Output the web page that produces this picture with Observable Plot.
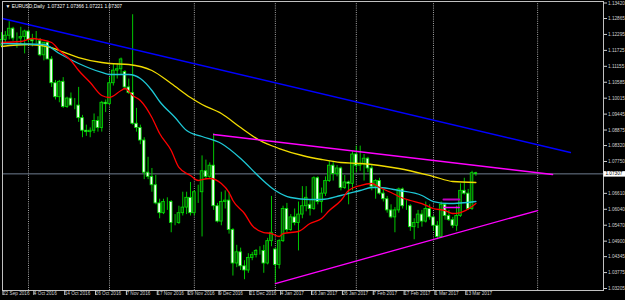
<!DOCTYPE html>
<html><head><meta charset="utf-8">
<script src="https://cdn.jsdelivr.net/npm/d3@7"></script>
<script src="https://cdn.jsdelivr.net/npm/@observablehq/plot@0.6"></script>
<style>
html,body{margin:0;padding:0;background:#000;}
#chart{width:625px;height:300px;overflow:hidden;}
</style></head><body><div id="chart"></div>
<script>
// ---- data (bar index 0 = 22 Sep 2016) ----
const opens = [1.1190,1.1210,1.1225,1.1250,1.1215,1.1215,1.1220,1.1240,1.1210,1.1205,
1.1205,1.1155,1.1200,1.1140,1.1055,1.1005,1.1060,1.0970,1.1000,1.0975,
1.0975,1.0930,1.0885,1.0880,1.0885,1.0920,1.0895,1.0985,1.0980,1.1055,
1.1100,1.1105,1.1095,1.1040,1.1020,1.0910,1.0895,1.0850,1.0735,1.0720,
1.0690,1.0625,1.0590,1.0630,1.0630,1.0555,1.0555,1.0590,1.0610,1.0645,
1.0590,1.0665,1.0665,1.0740,1.0720,1.0760,1.0615,1.0560,1.0630,1.0635,
1.0530,1.0410,1.0450,1.0400,1.0385,1.0430,1.0440,1.0455,1.0455,1.0410,
1.0490,1.0460,1.0405,1.0490,1.0605,1.0530,1.0575,1.0555,1.0585,1.0615,
1.0620,1.0605,1.0715,1.0630,1.0660,1.0705,1.0760,1.0730,1.0750,1.0680,
1.0700,1.0695,1.0800,1.0760,1.0765,1.0785,1.0750,1.0685,1.0705,1.0660,
1.0640,1.0600,1.0575,1.0600,1.0675,1.0615,1.0615,1.0540,1.0555,1.0585,
1.0560,1.0605,1.0575,1.0545,1.0505,1.0620,1.0580,1.0565,1.0545,1.0580,
1.0670,1.0660,1.0605,1.07327];
const highs = [1.1236,1.1240,1.1275,1.1255,1.1235,1.1255,1.1245,1.1245,1.1230,1.1240,
1.1215,1.1200,1.1205,1.1150,1.1065,1.1065,1.1075,1.1005,1.1020,1.1000,
1.1040,1.0940,1.0905,1.0895,1.0945,1.0935,1.0990,1.0995,1.1075,1.1125,
1.1125,1.1145,1.1100,1.1070,1.1300,1.0965,1.0905,1.0860,1.0790,1.0750,
1.0725,1.0640,1.0640,1.0645,1.0635,1.0585,1.0615,1.0665,1.0665,1.0700,
1.0670,1.0690,1.0795,1.0780,1.0770,1.0874,1.0625,1.0665,1.0670,1.0665,
1.0535,1.0475,1.0465,1.0420,1.0445,1.0450,1.0460,1.0470,1.0475,1.0500,
1.0650,1.0465,1.0495,1.0615,1.0625,1.0585,1.0605,1.0630,1.0685,1.0685,
1.0635,1.0720,1.0720,1.0680,1.0720,1.0775,1.0775,1.0760,1.0755,1.0725,
1.0705,1.0810,1.0830,1.0830,1.0800,1.0790,1.0760,1.0710,1.0715,1.0675,
1.0650,1.0620,1.0610,1.0680,1.0680,1.0635,1.0620,1.0570,1.0600,1.0600,
1.0630,1.0620,1.0580,1.0560,1.0630,1.0625,1.0600,1.0575,1.0615,1.0695,
1.0715,1.0675,1.0740,1.07366];
const lows = [1.1185,1.1195,1.1210,1.1205,1.1180,1.1190,1.1160,1.1200,1.1185,1.1195,
1.1150,1.1135,1.1140,1.1040,1.0995,1.0985,1.0965,1.0965,1.0975,1.0960,
1.0915,1.0860,1.0865,1.0860,1.0875,1.0880,1.0880,1.0950,1.0975,1.1045,
1.1070,1.1085,1.1030,1.1015,1.0905,1.0880,1.0835,1.0710,1.0710,1.0665,
1.0620,1.0570,1.0585,1.0600,1.0520,1.0545,1.0550,1.0580,1.0585,1.0580,
1.0580,1.0625,1.0505,1.0710,1.0710,1.0600,1.0555,1.0545,1.0605,1.0515,
1.0365,1.0395,1.0385,1.0352,1.0375,1.0420,1.0430,1.0440,1.0375,1.0405,
1.0470,1.0340,1.0390,1.0485,1.0520,1.0525,1.0545,1.0455,1.0570,1.0595,
1.0580,1.0600,1.0620,1.0590,1.0650,1.0700,1.0705,1.0720,1.0670,1.0675,
1.0620,1.0670,1.0735,1.0740,1.0705,1.0735,1.0670,1.0640,1.0655,1.0630,
1.0590,1.0570,1.0520,1.0590,1.0605,1.0600,1.0525,1.0495,1.0535,1.0540,
1.0555,1.0565,1.0525,1.0495,1.0500,1.0565,1.0560,1.0535,1.0525,1.0575,
1.0655,1.0600,1.0600,1.07221];
const closes = [1.1210,1.1225,1.1250,1.1215,1.1215,1.1220,1.1240,1.1210,1.1205,1.1205,
1.1155,1.1200,1.1140,1.1055,1.1005,1.1060,1.0970,1.1000,1.0975,1.0975,
1.0930,1.0885,1.0880,1.0885,1.0920,1.0895,1.0985,1.0980,1.1055,1.1100,
1.1105,1.1140,1.1040,1.1020,1.0910,1.0895,1.0850,1.0735,1.0720,1.0690,
1.0625,1.0590,1.0630,1.0630,1.0555,1.0555,1.0590,1.0610,1.0645,1.0590,
1.0665,1.0665,1.0740,1.0720,1.0760,1.0615,1.0560,1.0630,1.0635,1.0530,
1.0410,1.0450,1.0400,1.0385,1.0430,1.0440,1.0455,1.0455,1.0410,1.0490,
1.0520,1.0405,1.0490,1.0605,1.0530,1.0575,1.0555,1.0585,1.0615,1.0645,
1.0605,1.0715,1.0630,1.0660,1.0705,1.0760,1.0730,1.0750,1.0680,1.0700,
1.0695,1.0800,1.0760,1.0765,1.0785,1.0750,1.0685,1.0705,1.0660,1.0640,
1.0600,1.0575,1.0600,1.0675,1.0615,1.0615,1.0540,1.0555,1.0585,1.0560,
1.0605,1.0575,1.0545,1.0505,1.0620,1.0580,1.0565,1.0545,1.0580,1.0670,
1.0660,1.0605,1.0733,1.07307];

// moving averages
const yellowIdx = [0,7,13,15,20,26,28,33,39,44,49,52,57,62,67,72,78,83,88,93,98,103,112,117,123];
const yellowVal = [1.11864,1.11935,1.11828,1.11721,1.11470,1.11291,1.11256,1.11220,1.11005,1.10540,1.10039,1.09789,1.09467,1.08966,1.08501,1.08214,1.07964,1.07821,1.07713,1.07678,1.07606,1.07499,1.07212,1.07034,1.06998];
const cyanIdx = [0,11,15,20,26,28,33,36,39,41,45,48,52,57,62,67,71,75,80,83,88,93,96,98,103,109,112,116,123];
const cyanVal = [1.11971,1.11935,1.11613,1.11256,1.10934,1.10862,1.10862,1.10719,1.10290,1.09896,1.09324,1.08858,1.08644,1.08393,1.07857,1.07177,1.06712,1.06461,1.06390,1.06390,1.06533,1.06712,1.06819,1.06819,1.06712,1.06533,1.06318,1.06246,1.06318];
const redIdx = [0,5,8,10,13,15,18,20,23,26,28,31,32,34,36,39,41,44,46,49,51,52,54,57,59,60,63,65,68,70,72,73,77,80,83,85,88,90,93,96,98,101,103,106,109,112,115,117,119,122,123];
const redVal = [1.12007,1.12043,1.12150,1.12114,1.12007,1.11721,1.11363,1.11005,1.10576,1.10111,1.10039,1.10290,1.10361,1.10111,1.09932,1.09324,1.08751,1.08143,1.07535,1.07248,1.07069,1.07105,1.07141,1.06962,1.06640,1.06354,1.05889,1.05459,1.05209,1.05173,1.05066,1.05173,1.05245,1.05531,1.05710,1.05996,1.06354,1.06712,1.06890,1.06962,1.06819,1.06640,1.06497,1.06354,1.06246,1.06067,1.05996,1.05889,1.05924,1.06139,1.06246];

// trend lines
const blueIdx = [0.26, 147.5], blueVal = [1.12866, 1.08071];
const magUpIdx = [55, 142.9], magUpVal = [1.08715, 1.07284];
const magLoIdx = [71, 139], magLoVal = [1.03384, 1.05996];
const segIdx = [114.6, 118.7], segVal1 = [1.06390, 1.06390], segVal2 = [1.06103, 1.06103];

// axes
const dateIdx = [0,8,16,24,32,40,48,56,64,72,80,88,96,104,112,120];
const dateLabels = ["22 Sep 2016","4 Oct 2016","14 Oct 2016","26 Oct 2016","7 Nov 2016","17 Nov 2016","29 Nov 2016","9 Dec 2016","21 Dec 2016","4 Jan 2017","16 Jan 2017","26 Jan 2017","7 Feb 2017","17 Feb 2017","1 Mar 2017","13 Mar 2017"];
const priceTicks = [1.13420,1.12865,1.12295,1.11725,1.11155,1.10585,1.10015,1.09445,1.08875,1.08320,1.07750,1.06610,1.06040,1.05470,1.04900,1.04345,1.03775,1.03205];
const gridIdx = [7,28,50,71,92,112,139];
const lastPrice = 1.07307;
const title = "\u25BC EURUSD,Daily  1.07327 1.07366 1.07221 1.07307";

// ---- build ----
const bars = opens.map((o,i)=>({i, o, h: highs[i], l: lows[i], c: closes[i]}));
const pts = (ix, v) => ix.map((x,k)=>({x, y: v[k]}));
const labelMap = new Map(dateIdx.map((d,k)=>[d, dateLabels[k]]));
const G = "#00dc00";

const chart = Plot.plot({
  width: 625, height: 300,
  marginLeft: 2, marginRight: 22, marginTop: 1, marginBottom: 10,
  style: {background: "#000", color: "#c8c8c8", fontFamily: "'Liberation Sans', Arial, sans-serif", fontSize: "4.7px"},
  x: {domain: [0.26, 156.08], label: null},
  y: {domain: [1.03134, 1.13474], label: null},
  marks: [
    Plot.ruleX(gridIdx, {stroke: "#b8b8b8", strokeDasharray: "1,1.2", strokeWidth: 0.9}),
    Plot.ruleY([lastPrice], {stroke: "#6f7d90", strokeWidth: 1}),
    Plot.ruleX(bars, {x: "i", y1: "l", y2: "h", stroke: G, strokeWidth: 0.9}),
    Plot.rect(bars.filter(d=>d.c>=d.o), {x1: d=>d.i-0.34, x2: d=>d.i+0.34, y1: "o", y2: "c", fill: "#0a4a0a", stroke: G, strokeWidth: 0.85}),
    Plot.rect(bars.filter(d=>d.c<d.o), {x1: d=>d.i-0.34, x2: d=>d.i+0.34, y1: "o", y2: "c", fill: "#f4fff4", stroke: G, strokeWidth: 0.85}),
    Plot.line(pts(yellowIdx, yellowVal), {x: "x", y: "y", stroke: "#f2dc00", strokeWidth: 1.3, curve: "monotone-x"}),
    Plot.line(pts(cyanIdx, cyanVal), {x: "x", y: "y", stroke: "#1ec8d6", strokeWidth: 1.3, curve: "monotone-x"}),
    Plot.line(pts(redIdx, redVal), {x: "x", y: "y", stroke: "#ff0000", strokeWidth: 1.3, curve: "monotone-x"}),
    Plot.line(pts(blueIdx, blueVal), {x: "x", y: "y", stroke: "#0000ff", strokeWidth: 1.4}),
    Plot.line(pts(magUpIdx, magUpVal), {x: "x", y: "y", stroke: "#ff00ff", strokeWidth: 1.3}),
    Plot.line(pts(magLoIdx, magLoVal), {x: "x", y: "y", stroke: "#ff00ff", strokeWidth: 1.3}),
    Plot.line(pts(segIdx, segVal1), {x: "x", y: "y", stroke: "#c000c0", strokeWidth: 2}),
    Plot.line(pts(segIdx, segVal2), {x: "x", y: "y", stroke: "#ff00ff", strokeWidth: 1.3}),
    Plot.frame({stroke: "#c0c0c0", strokeWidth: 1}),
    Plot.axisY(priceTicks, {anchor: "right", tickFormat: d=>d.toFixed(5), tickSize: 3, tickPadding: 1.5, color: "#d0d0d0", fontSize: 4.7}),
    Plot.axisX(dateIdx, {anchor: "bottom", tickFormat: d=>labelMap.get(d), tickSize: 5, tickPadding: -3.5, textAnchor: "start", dx: 1.5, color: "#d0d0d0", fontSize: 4.7}),
    Plot.ruleY([lastPrice], {x1: 156.2, x2: 162, stroke: "#ffffff", strokeWidth: 5.5}),
    Plot.text([lastPrice], {x: 156.2, y: d=>d, text: d=>d.toFixed(5), dx: 1.5, textAnchor: "start", fill: "#000", fontSize: 4.7}),
    Plot.text([title], {frameAnchor: "top-left", dx: 3, dy: 3, lineAnchor: "top", textAnchor: "start", fill: "#ffffff", fontSize: 4.9})
  ]
});
document.getElementById("chart").appendChild(chart);
</script></body></html>
